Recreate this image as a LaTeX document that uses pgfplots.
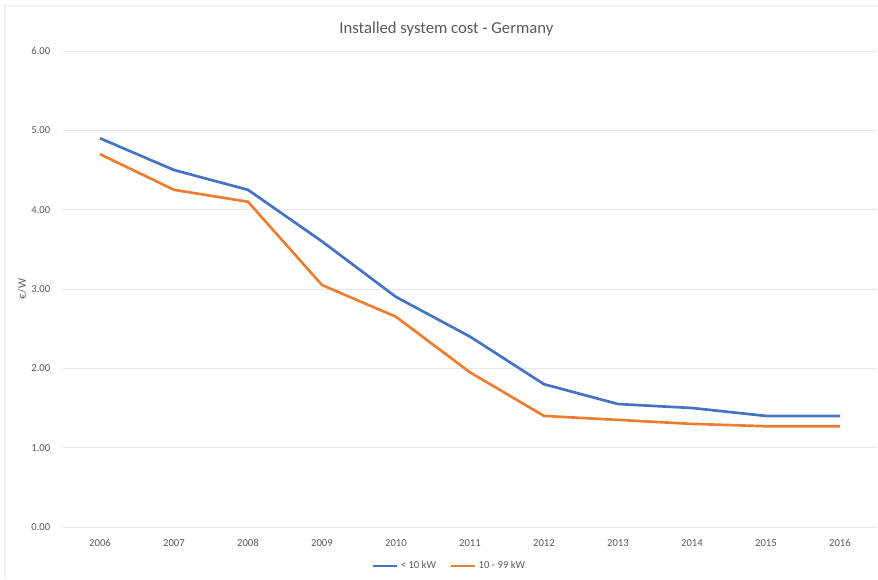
\documentclass[border=0pt]{standalone}
\usepackage{pgfplots}
\pgfplotsset{compat=1.18}
\usepackage{fontspec}
\setmainfont{Carlito}
\definecolor{serA}{HTML}{4472C4}
\definecolor{serB}{HTML}{ED7D31}
\definecolor{gridc}{HTML}{E6E6E6}
\definecolor{txt}{HTML}{595959}
\begin{document}
\begin{tikzpicture}
\path[use as bounding box] (0,0) rectangle (658.5pt,434.25pt);
\draw[color=gridc!80!black!20, line width=0.8pt] (3.75pt,0) -- (3.75pt,429.75pt) -- (658.5pt,429.75pt);
\begin{axis}[
    at={(47.25pt,39pt)}, anchor=south west,
    scale only axis,
    width=610.5pt, height=357pt,
    xmin=2005.5, xmax=2016.5,
    ymin=0, ymax=6,
    xtick={2006,...,2016},
    xticklabels={2006,2007,2008,2009,2010,2011,2012,2013,2014,2015,2016},
    ytick={0,1,2,3,4,5,6},
    yticklabel={\pgfmathprintnumber[fixed,fixed zerofill,precision=2]{\tick}},
    /pgf/number format/assume math mode=true,
    axis line style={draw=none},
    major tick length=0pt,
    ymajorgrids,
    grid style={gridc, line width=0.7pt},
    tick label style={font=\fontsize{8}{9}\selectfont, text=txt},
    xticklabel style={yshift=-6pt},
    yticklabel style={xshift=-6pt},
    ylabel={€/W},
    ylabel style={at={(axis description cs:-0.05,0.5)}, anchor=center, font=\fontsize{8.5}{10}\selectfont, text=txt},
    title={Installed system cost - Germany},
    title style={at={(axis description cs:0.471,1)}, yshift=10.5pt, anchor=center, font=\fontsize{12.5}{14}\selectfont, text=txt},
    legend style={at={(axis description cs:0.475,-0.082)}, anchor=center, draw=none, fill=none,
        font=\fontsize{8}{9}\selectfont, text=txt, legend columns=2,
        /tikz/every even column/.append style={column sep=8pt}},
    legend image code/.code={\draw[#1, line width=2pt] (0pt,0pt) -- (18pt,0pt);},
]
\addplot[serA, line width=2pt] coordinates {
    (2006,4.90) (2007,4.50) (2008,4.25) (2009,3.60) (2010,2.90) (2011,2.40)
    (2012,1.80) (2013,1.55) (2014,1.50) (2015,1.40) (2016,1.40)
};
\addlegendentry{< 10 kW}
\addplot[serB, line width=2pt] coordinates {
    (2006,4.70) (2007,4.25) (2008,4.10) (2009,3.05) (2010,2.65) (2011,1.95)
    (2012,1.40) (2013,1.35) (2014,1.30) (2015,1.27) (2016,1.27)
};
\addlegendentry{10 - 99 kW}
\end{axis}
\end{tikzpicture}
\end{document}
